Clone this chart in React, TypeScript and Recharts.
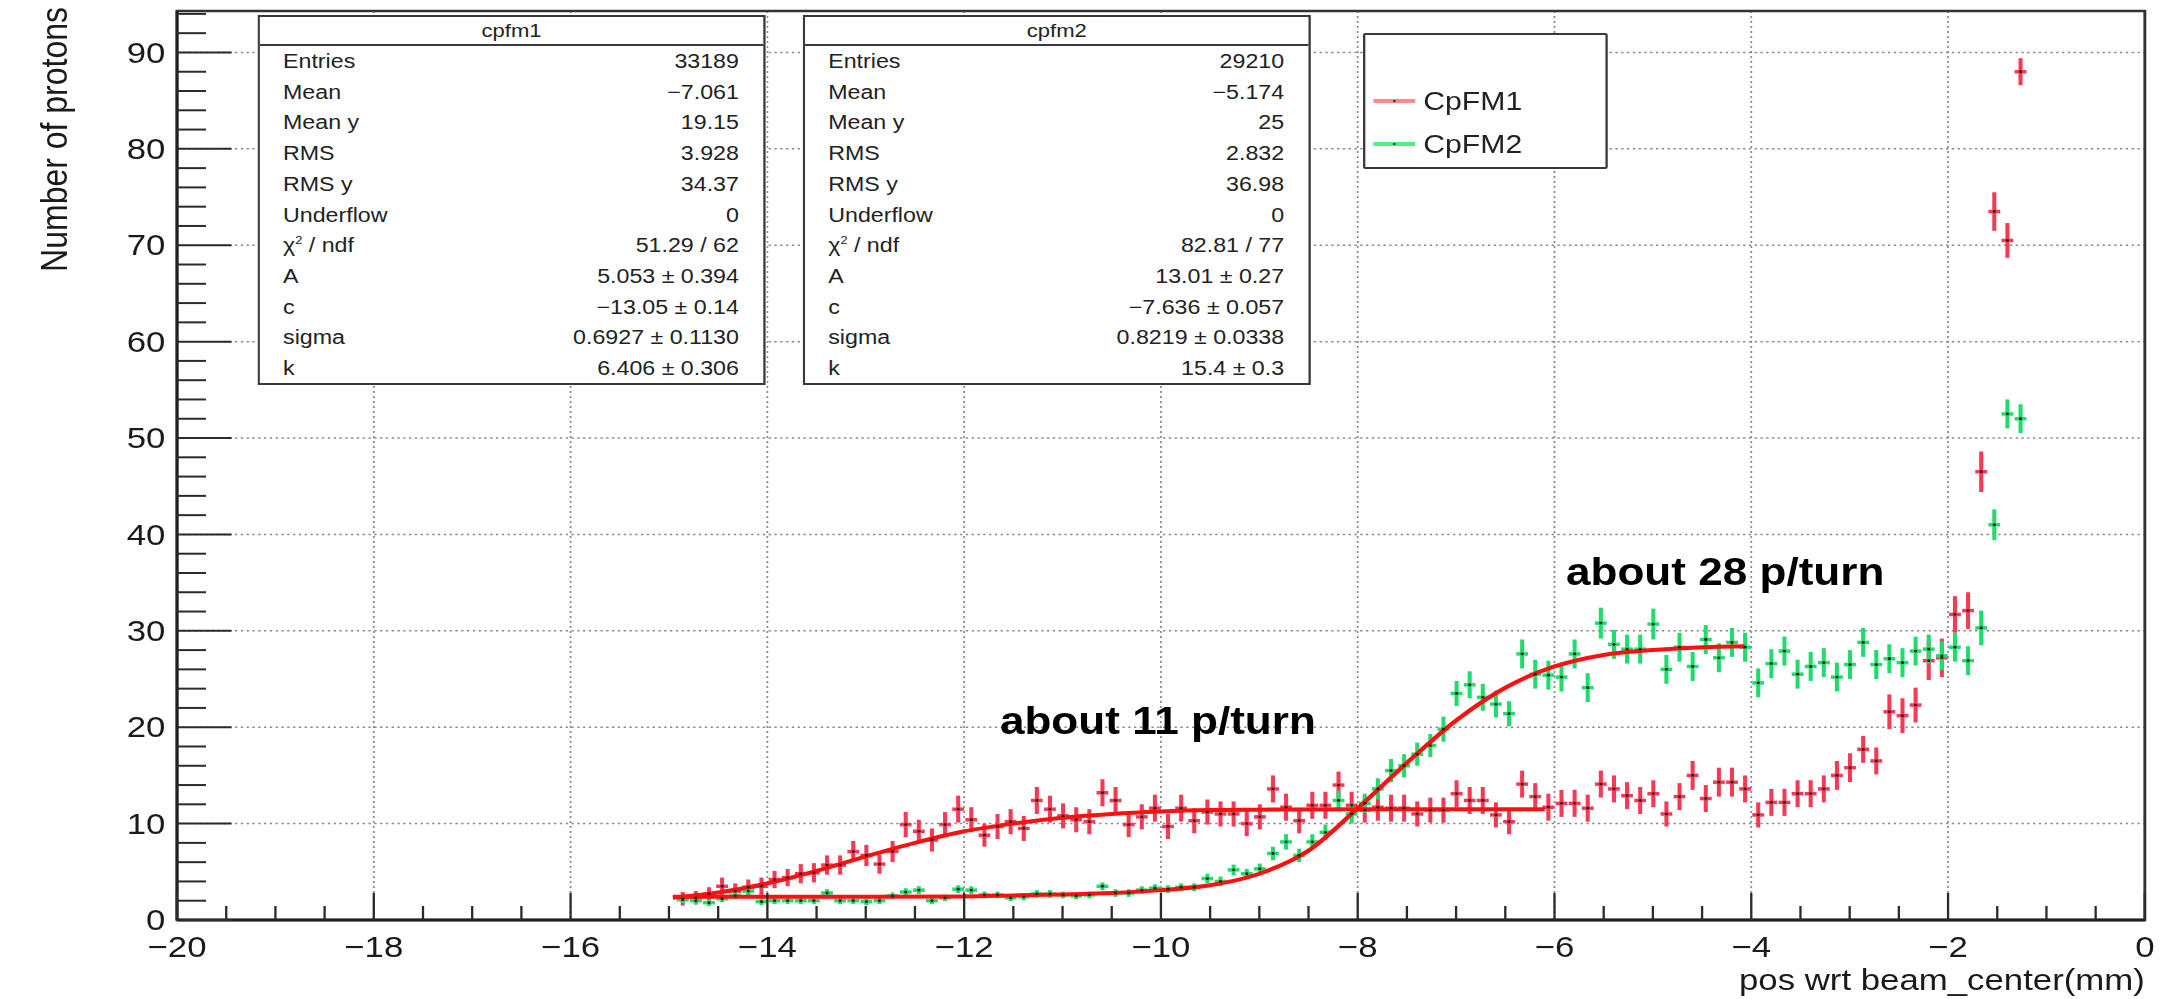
import React from "react";
import {
  ComposedChart,
  Scatter,
  Line,
  XAxis,
  YAxis,
  CartesianGrid,
  ErrorBar,
  ReferenceArea,
  Legend,
} from "recharts";

// histogram binning (bin centres)
const binStart = -14.86;
const binWidth = 0.1333;
const halfBin = 0.06;

const cpfm1Counts = [
  2.2, 2.3, 2.7, 3.5, 3.0, 3.4, 3.5, 4.2, 4.4, 4.8,
  4.9, 5.7, 5.7, 7.1, 6.7, 5.8, 7.1, 9.9, 9.2, 8.3,
  9.9, 11.5, 10.4, 8.8, 9.7, 10.2, 9.5, 12.4, 11.5, 10.8,
  10.4, 10.2, 13.2, 12.4, 9.9, 10.7, 11.6, 9.7, 11.6, 10.3,
  11.2, 11.0, 11.0, 10.0, 10.7, 13.6, 11.7, 10.3, 11.9, 11.9,
  14.0, 11.9, 11.4, 11.7, 11.6, 11.6, 11.0, 11.4, 11.4, 13.1,
  12.4, 12.4, 10.9, 10.2, 14.1, 12.8, 11.7, 12.1, 12.1, 11.6,
  14.1, 13.6, 12.9, 12.4, 13.1, 11.0, 12.8, 15.0, 12.6, 14.3,
  14.3, 13.6, 10.9, 12.2, 12.2, 13.1, 13.1, 13.6, 15.0, 15.8,
  17.7, 16.5, 21.6, 21.2, 22.3, 26.9, 27.2, 31.7, 32.1, 46.5,
  73.5, 70.5, 88.0,
];
const cpfm1Errors = [
  0.7, 0.7, 0.7, 0.9, 0.8, 0.8, 0.9, 0.9, 0.9, 1.0,
  1.0, 1.0, 1.0, 1.1, 1.1, 1.0, 1.1, 1.3, 1.2, 1.2,
  1.3, 1.4, 1.3, 1.2, 1.3, 1.3, 1.3, 1.4, 1.4, 1.3,
  1.3, 1.3, 1.4, 1.4, 1.3, 1.3, 1.4, 1.3, 1.4, 1.3,
  1.3, 1.3, 1.3, 1.3, 1.3, 1.4, 1.4, 1.3, 1.4, 1.4,
  1.4, 1.4, 1.3, 1.4, 1.4, 1.4, 1.3, 1.3, 1.3, 1.4,
  1.4, 1.4, 1.3, 1.3, 1.4, 1.4, 1.4, 1.4, 1.4, 1.4,
  1.4, 1.4, 1.4, 1.4, 1.4, 1.3, 1.4, 1.5, 1.4, 1.5,
  1.5, 1.4, 1.3, 1.4, 1.4, 1.4, 1.4, 1.4, 1.5, 1.5,
  1.4, 1.4, 1.8, 1.8, 1.8, 2.0, 2.0, 1.9, 1.9, 2.1,
  2.0, 1.8, 1.4,
];
const cpfm2Counts = [
  2.1, 2.0, 1.8, 2.2, 2.5, 3.0, 1.9, 2.0, 2.0, 2.0,
  2.0, 2.8, 2.0, 2.0, 1.9, 2.0, 2.5, 2.9, 3.1, 2.0,
  2.3, 3.2, 3.1, 2.6, 2.6, 2.3, 2.4, 2.7, 2.7, 2.6,
  2.5, 2.6, 3.5, 2.8, 2.8, 3.1, 3.3, 3.2, 3.4, 3.4,
  4.3, 4.0, 5.2, 4.8, 5.3, 6.9, 8.1, 6.7, 8.1, 9.1,
  12.4, 11.0, 12.1, 13.6, 15.5, 16.0, 17.2, 18.1, 19.8, 23.5,
  24.4, 23.1, 22.4, 21.4, 27.6, 25.5, 25.4, 25.2, 27.6, 24.1,
  30.8, 28.6, 28.1, 28.1, 30.7, 26.0, 28.3, 26.3, 29.1, 27.2,
  28.8, 28.3, 24.6, 26.6, 27.9, 25.5, 26.3, 26.7, 25.2, 26.5,
  28.8, 26.5, 27.1, 26.7, 27.9, 28.1, 27.4, 28.3, 26.9, 30.3,
  41.0, 52.5, 52.0,
];
const cpfm2Errors = [
  0.35, 0.35, 0.35, 0.35, 0.35, 0.4, 0.35, 0.35, 0.35, 0.35,
  0.35, 0.4, 0.35, 0.35, 0.35, 0.35, 0.35, 0.4, 0.4, 0.35,
  0.35, 0.4, 0.4, 0.35, 0.35, 0.35, 0.35, 0.4, 0.4, 0.35,
  0.35, 0.35, 0.4, 0.4, 0.4, 0.4, 0.4, 0.4, 0.4, 0.4,
  0.5, 0.5, 0.55, 0.5, 0.55, 0.7, 0.8, 0.7, 0.8, 0.8,
  1.0, 1.0, 1.0, 1.1, 1.2, 1.2, 1.2, 1.2, 1.3, 1.3,
  1.4, 1.4, 1.4, 1.3, 1.5, 1.5, 1.5, 1.5, 1.5, 1.5,
  1.6, 1.5, 1.5, 1.5, 1.6, 1.5, 1.5, 1.5, 1.5, 1.5,
  1.5, 1.5, 1.5, 1.5, 1.5, 1.5, 1.5, 1.5, 1.5, 1.5,
  1.5, 1.5, 1.5, 1.5, 1.5, 1.5, 1.5, 1.5, 1.5, 1.8,
  1.6, 1.5, 1.5,
];

// fit curves
const fit1X = [-14.96, -14.5, -14.0, -13.5, -13.0, -12.5, -12.0, -11.5, -11.0, -10.5, -10.0, -9.5, -9.0, -8.0, -7.0, -6.1];
const fit1Y = [2.3, 2.85, 3.8, 5.1, 6.6, 8.0, 9.2, 10.0, 10.6, 11.0, 11.25, 11.4, 11.45, 11.5, 11.5, 11.5];
const fit2X = [-14.96, -14.0, -13.0, -12.0, -11.5, -11.0, -10.5, -10.0, -9.5, -9.0, -8.5, -8.0, -7.5, -7.0, -6.5, -6.0, -5.5, -5.0, -4.5, -4.07];
const fit2Y = [2.4, 2.4, 2.4, 2.45, 2.55, 2.65, 2.8, 3.1, 3.6, 4.8, 7.2, 11.6, 16.3, 20.7, 24.1, 26.3, 27.5, 28.0, 28.3, 28.4];

const xMajorTicks = [-20, -18, -16, -14, -12, -10, -8, -6, -4, -2, 0];
const xTicks = [
  -20, -19.5, -19, -18.5, -18, -17.5, -17, -16.5, -16, -15.5, -15, -14.5, -14, -13.5,
  -13, -12.5, -12, -11.5, -11, -10.5, -10, -9.5, -9, -8.5, -8, -7.5, -7, -6.5, -6,
  -5.5, -5, -4.5, -4, -3.5, -3, -2.5, -2, -1.5, -1, -0.5, 0,
];
const yMajorTicks = [0, 10, 20, 30, 40, 50, 60, 70, 80, 90];
const yTicks = [
  0, 2, 4, 6, 8, 10, 12, 14, 16, 18, 20, 22, 24, 26, 28, 30, 32, 34, 36, 38, 40, 42, 44, 46,
  48, 50, 52, 54, 56, 58, 60, 62, 64, 66, 68, 70, 72, 74, 76, 78, 80, 82, 84, 86, 88, 90, 92, 94,
];
const yMax = 94.3;

const statLabels = ["Entries", "Mean", "Mean y", "RMS", "RMS y", "Underflow", "chi2", "A", "c", "sigma", "k"];
const cpfm1Stats = ["33189", "\u22127.061", "19.15", "3.928", "34.37", "0", "51.29 / 62", "5.053 \u00b1 0.394", "\u221213.05 \u00b1 0.14", "0.6927 \u00b1 0.1130", "6.406 \u00b1 0.306"];
const cpfm2Stats = ["29210", "\u22125.174", "25", "2.832", "36.98", "0", "82.81 / 77", "13.01 \u00b1 0.27", "\u22127.636 \u00b1 0.057", "0.8219 \u00b1 0.0338", "15.4 \u00b1 0.3"];

const FONT = '"Liberation Sans", Arial, Helvetica, sans-serif';
const SX = 1.16; // the picture is stretched horizontally
const W = 1865;
const H = 999;

const RED = "#f53a55";
const GREEN = "#20dc6c";
const legendColors: Record<string, string> = { CpFM1: "#ff8a8a", CpFM2: "#4cf07e" };

const toPoints = (counts: number[], errors: number[]) =>
  counts.map((c, i) => ({
    x: +(binStart + i * binWidth).toFixed(4),
    y: c,
    ey: errors[i],
    ex: halfBin,
  }));

const cpfm1Data = toPoints(cpfm1Counts, cpfm1Errors);
const cpfm2Data = toPoints(cpfm2Counts, cpfm2Errors);
const fit1Data = fit1X.map((x, i) => ({ x, y: fit1Y[i] }));
const fit2Data = fit2X.map((x, i) => ({ x, y: fit2Y[i] }));

const fmt = (v: number) => (v < 0 ? "\u2212" + Math.abs(v) : String(v));

const XTick = (props: any) => {
  const { x, y, payload } = props;
  const v = payload.value as number;
  const major = xMajorTicks.includes(v);
  return (
    <g>
      <line x1={x} x2={x} y1={y} y2={y - (major ? 27 : 14)} stroke="#2b2b2b" strokeWidth={2} />
      {major && (
        <text x={x} y={y + 27} textAnchor="middle" dominantBaseline="central" fontSize={30} fontFamily={FONT} fill="#1a1a1a">
          {fmt(v)}
        </text>
      )}
    </g>
  );
};

const YTick = (props: any) => {
  const { x, y, payload } = props;
  const v = payload.value as number;
  const major = yMajorTicks.includes(v);
  return (
    <g>
      <line x1={x} x2={x + (major ? 47 : 25)} y1={y} y2={y} stroke="#2b2b2b" strokeWidth={2} />
      {major && (
        <text x={x - 10} y={y} textAnchor="end" dominantBaseline="central" fontSize={30} fontFamily={FONT} fill="#1a1a1a">
          {v}
        </text>
      )}
    </g>
  );
};

const renderDot = (p: any) => <circle cx={p.cx} cy={p.cy} r={1.4} fill="#3a1a1a" />;

const renderLegend = (props: any) => {
  const items = (props.payload || []).filter((p: any) => p.type !== "none");
  return (
    <div
      style={{
        width: 211,
        height: 136,
        border: "2px solid #3a3a3a",
        borderRadius: 2,
        background: "#fff",
        boxSizing: "border-box",
        position: "relative",
        fontFamily: FONT,
      }}
    >
      {items.map((item: any, i: number) => (
        <div key={item.value} style={{ position: "absolute", left: 0, top: 50 + i * 43, height: 32, width: 200 }}>
          <div style={{ position: "absolute", left: 7, top: 14, width: 36, height: 4, background: legendColors[item.value] }} />
          <div style={{ position: "absolute", left: 24, top: 15, width: 2, height: 2, background: "#333" }} />
          <div style={{ position: "absolute", left: 50, top: 0, lineHeight: "32px", fontSize: 26, color: "#222" }}>{item.value}</div>
        </div>
      ))}
    </div>
  );
};

const StatBox = ({ title, values, left, top }: { title: string; values: string[]; left: number; top: number }) => (
  <div
    style={{
      position: "absolute",
      left,
      top,
      width: 438,
      height: 370,
      border: "2px solid #3a3a3a",
      background: "#fff",
      boxSizing: "border-box",
      fontFamily: FONT,
      color: "#222",
    }}
  >
    <div style={{ height: 27, borderBottom: "2px solid #3a3a3a", textAlign: "center", lineHeight: "27px", fontSize: 19 }}>{title}</div>
    {statLabels.map((label, i) => (
      <div
        key={label}
        style={{
          position: "absolute",
          left: 20,
          right: 21,
          top: 29 + i * 30.7,
          height: 30,
          lineHeight: "30px",
          display: "flex",
          justifyContent: "space-between",
          fontSize: 20,
        }}
      >
        <span>
          {label === "chi2" ? (
            <>
              {"\u03c7"}
              <span style={{ fontSize: 11, position: "relative", top: -8 }}>2</span>
              {" / ndf"}
            </>
          ) : (
            label
          )}
        </span>
        <span>{values[i]}</span>
      </div>
    ))}
  </div>
);

const annotationStyle: React.CSSProperties = {
  position: "absolute",
  fontFamily: FONT,
  fontWeight: 700,
  fontSize: 38,
  lineHeight: "38px",
  color: "#000",
  whiteSpace: "nowrap",
};

export default function App() {
  return (
    <div style={{ position: "absolute", left: 0, top: 0, width: 2163, height: H, overflow: "hidden", background: "#fff" }}>
      <div style={{ position: "relative", width: W, height: H, transform: `scaleX(${SX})`, transformOrigin: "0 0", fontFamily: FONT }}>
        <ComposedChart width={W} height={H} margin={{ top: 11, right: 16, bottom: 19, left: 92.6 }}>
          <CartesianGrid
            verticalValues={xMajorTicks}
            horizontalValues={yMajorTicks}
            stroke="#8a8a8a"
            strokeWidth={1.5}
            strokeDasharray="2 3"
          />
          <XAxis
            type="number"
            dataKey="x"
            domain={[-20, 0]}
            ticks={xTicks}
            interval={0}
            allowDataOverflow
            height={60}
            tickSize={0}
            tickMargin={0}
            tickLine={false}
            tick={XTick}
            axisLine={{ stroke: "#222", strokeWidth: 3 }}
            label={{
              content: () => (
                <text x={1849} y={980} textAnchor="end" dominantBaseline="central" fontSize={30} fontFamily={FONT} fill="#1a1a1a">
                  pos wrt beam_center(mm)
                </text>
              ),
            }}
          />
          <YAxis
            type="number"
            dataKey="y"
            domain={[0, yMax]}
            ticks={yTicks}
            interval={0}
            allowDataOverflow
            width={60}
            tickSize={0}
            tickMargin={0}
            tickLine={false}
            tick={YTick}
            axisLine={{ stroke: "#222", strokeWidth: 2.5 }}
            label={{
              content: () => (
                <text
                  x={47}
                  y={7}
                  transform="rotate(-90, 47, 7)"
                  textAnchor="end"
                  dominantBaseline="central"
                  fontSize={32}
                  fontFamily={FONT}
                  fill="#1a1a1a"
                >
                  Number of protons
                </text>
              ),
            }}
          />
          <ReferenceArea x1={-20} x2={0} y1={0} y2={yMax} fill="none" stroke="#333" strokeWidth={2.5} ifOverflow="visible" />
          <Scatter name="CpFM1" data={cpfm1Data} dataKey="y" fill={RED} shape={renderDot} legendType="line" isAnimationActive={false}>
            <ErrorBar dataKey="ey" direction="y" width={0} stroke={RED} strokeWidth={3.5} isAnimationActive={false} />
            <ErrorBar dataKey="ex" direction="x" width={0} stroke={RED} strokeWidth={3.5} isAnimationActive={false} />
          </Scatter>
          <Scatter name="CpFM2" data={cpfm2Data} dataKey="y" fill={GREEN} shape={renderDot} legendType="line" isAnimationActive={false}>
            <ErrorBar dataKey="ey" direction="y" width={0} stroke={GREEN} strokeWidth={3.5} isAnimationActive={false} />
            <ErrorBar dataKey="ex" direction="x" width={0} stroke={GREEN} strokeWidth={3.5} isAnimationActive={false} />
          </Scatter>
          <Line data={fit2Data} dataKey="y" type="monotone" stroke="#ff1010" strokeWidth={4} dot={false} legendType="none" isAnimationActive={false} />
          <Line data={fit1Data} dataKey="y" type="monotone" stroke="#ff1010" strokeWidth={4} dot={false} legendType="none" isAnimationActive={false} />
          <Legend
            layout="horizontal"
            verticalAlign="middle"
            align="center"
            content={renderLegend}
            wrapperStyle={{ position: "absolute", left: 1175, top: 33, width: 211, height: 136 }}
          />
        </ComposedChart>
        <StatBox title="cpfm1" values={cpfm1Stats} left={222} top={15} />
        <StatBox title="cpfm2" values={cpfm2Stats} left={692} top={15} />
        <div style={{ ...annotationStyle, left: 1350, top: 553 }}>about 28 p/turn</div>
        <div style={{ ...annotationStyle, left: 862, top: 702 }}>about 11 p/turn</div>
      </div>
    </div>
  );
}
